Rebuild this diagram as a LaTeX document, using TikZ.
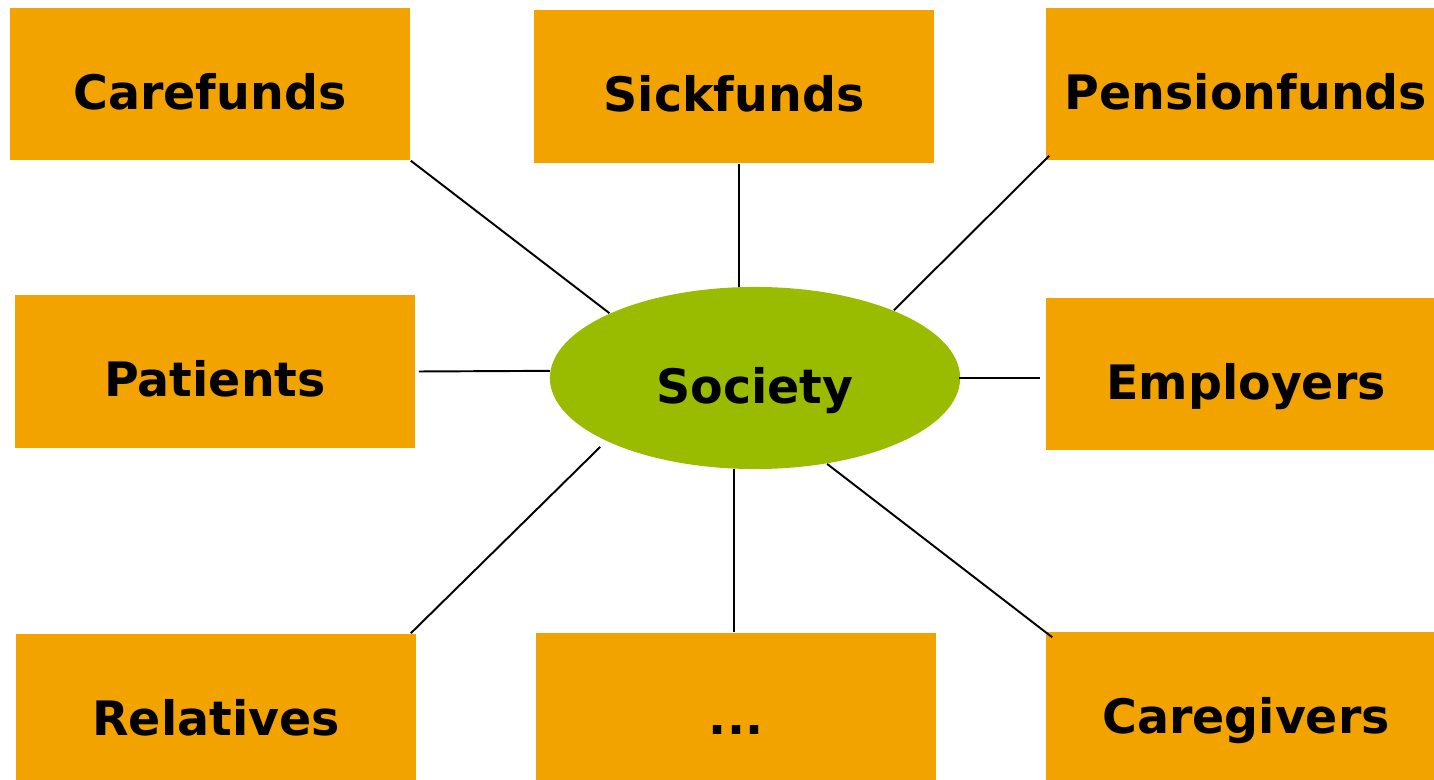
\documentclass[tikz,border=0pt]{standalone}
\usepackage{fontspec}
\setmainfont{DejaVu Sans}
\usetikzlibrary{shapes.geometric}
\definecolor{boxorange}{RGB}{242,163,0}
\definecolor{socgreen}{RGB}{153,187,0}
\begin{document}
\begin{tikzpicture}[x=0.01cm,y=-0.01cm,
  lbl/.style={font=\fontsize{13.5}{16}\selectfont\bfseries, text height=0.5cm, text depth=0pt, inner sep=0pt},
  actor/.style={lbl, fill=boxorange, minimum width=4cm, minimum height=1.52cm},
  link/.style={draw=black, line width=0.55pt}]
\useasboundingbox (0,0) rectangle (1434,780);
\clip (0,0) rectangle (1434,780);
\node[actor] (care) at (210,84) {Carefunds};
\node[actor, minimum height=1.53cm] (sick) at (734,86.5) {Sickfunds};
\node[actor] (pens) at (1246,84) {Pensionfunds};
\node[actor, minimum height=1.53cm] (pat) at (215,371.5) {Patients};
\node[actor] (emp) at (1246,374) {Employers};
\node[actor] (rel) at (216,710) {Relatives};
\node[actor] (more) at (736,709) {...};
\node[actor] (careg) at (1246,708) {Caregivers};
\node[lbl, ellipse, fill=socgreen, minimum width=4.1cm, minimum height=1.82cm] (soc) at (755,378) {Society};
\draw[link] (care.south east) -- (soc.156);
\draw[link] (soc.100.6) -- (soc.100.6 |- sick.south);
\draw[link] ([xshift=0.04cm,yshift=0.05cm]pens.south west) -- (soc.26.2);
\draw[link] ([xshift=0.03cm]pat.east) -- (soc.178);
\draw[link] ([xshift=-0.02cm]soc.east) -- ([xshift=-0.05cm]soc.east -| emp.west);
\draw[link, shorten >=0.08cm] ([xshift=-0.06cm]rel.north east) -- (soc.203.1);
\draw[link] (soc.257.2) -- (soc.257.2 |- more.north);
\draw[link] (soc.310.4) -- ([xshift=0.07cm,yshift=-0.06cm]careg.north west);
\end{tikzpicture}
\end{document}
